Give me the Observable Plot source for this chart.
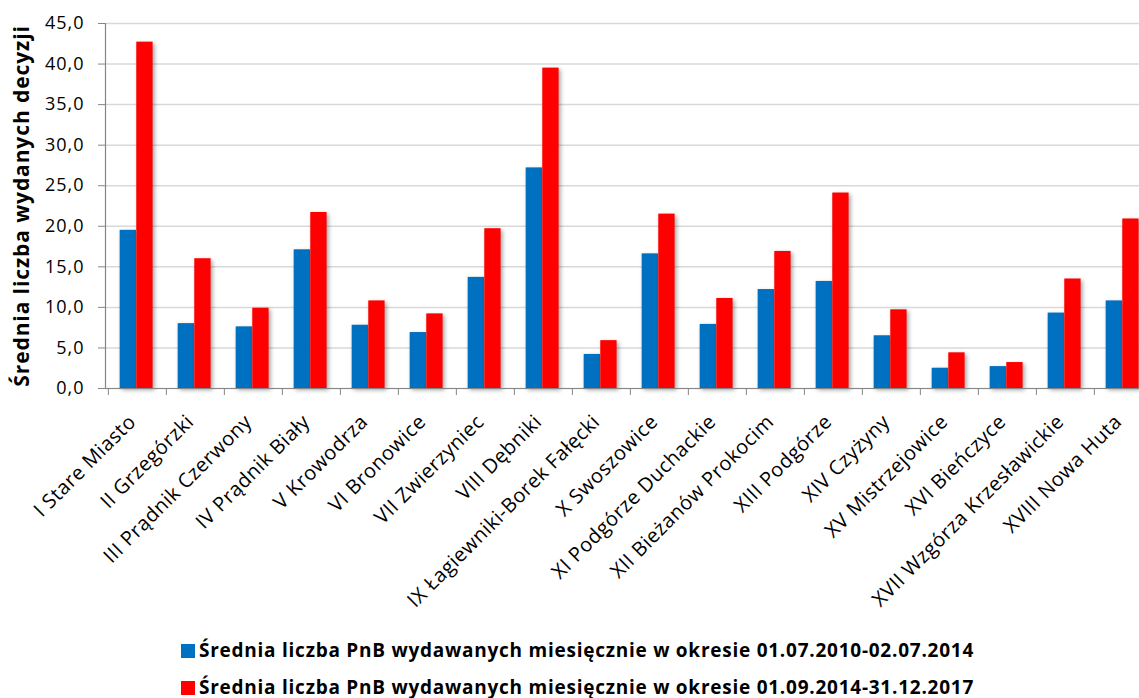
<!DOCTYPE html>
<html>
<head>
<meta charset="utf-8">
<script src="https://cdn.jsdelivr.net/npm/d3@7"></script>
<script src="https://cdn.jsdelivr.net/npm/@observablehq/plot@0.6"></script>
<style>
  html, body { margin: 0; padding: 0; background: #fff; }
  body { font-family: "Open Sans", sans-serif; color: #000; width: 1139px; height: 698px; overflow: hidden; position: relative; }
  #chart svg { display: block; }
  #chart svg g[aria-label="bar"] rect { filter: drop-shadow(2px 2px 2px rgba(0,0,0,0.35)); }
  #chart svg g[aria-label="y-axis tick label"] text { letter-spacing: 1px; }
  #chart svg g.xlabels text { letter-spacing: 0.5px; }
  #chart svg g.ytitle text { letter-spacing: 0.9px; }
  #legend { text-align: center; position: relative; }
  #legend .box { display: inline-block; text-align: left; margin-left: 16px; }
  .item { font-weight: 700; font-size: 19px; letter-spacing: 0.75px; line-height: 37px; white-space: nowrap; }
  .sw { display: inline-block; width: 14px; height: 14px; margin-right: 4px; vertical-align: -1px; }
</style>
</head>
<body>
<div id="chart"></div>
<div id="legend"><div class="box"></div></div>
<script>
const categories = [
  "I Stare Miasto", "II Grzegórzki", "III Prądnik Czerwony", "IV Prądnik Biały",
  "V Krowodrza", "VI Bronowice", "VII Zwierzyniec", "VIII Dębniki",
  "IX Łagiewniki-Borek Fałęcki", "X Swoszowice", "XI Podgórze Duchackie",
  "XII Bieżanów Prokocim", "XIII Podgórze", "XIV Czyżyny", "XV Mistrzejowice",
  "XVI Bieńczyce", "XVII Wzgórza Krzesławickie", "XVIII Nowa Huta"
];
const seriesNames = [
  "Średnia liczba PnB wydawanych miesięcznie w okresie 01.07.2010-02.07.2014",
  "Średnia liczba PnB wydawanych miesięcznie w okresie 01.09.2014-31.12.2017"
];
const seriesColors = ["#0070C0", "#FF0000"];
const values2010_2014 = [19.5, 8.0, 7.6, 17.1, 7.8, 6.9, 13.7, 27.2, 4.2, 16.6, 7.9, 12.2, 13.2, 6.5, 2.5, 2.7, 9.3, 10.8];
const values2014_2017 = [42.7, 16.0, 9.9, 21.7, 10.8, 9.2, 19.7, 39.5, 5.9, 21.5, 11.1, 16.9, 24.1, 9.7, 4.4, 3.2, 13.5, 20.9];
const yTicks = [0, 5, 10, 15, 20, 25, 30, 35, 40, 45];
const yTitle = "Średnia liczba wydanych decyzji";

const rows = categories.map((c, i) => ({district: c, a: values2010_2014[i], b: values2014_2017[i]}));

const W = 1139, H = 632, mL = 105, mT = 23, mB = H - 388;
const xRange = [mL, 1154];
const bw = (xRange[1] - xRange[0]) / categories.length;
const f0 = 0.2, fw = 0.285;

const fmt = d => d.toFixed(1).replace(".", ",");

const chart = Plot.plot({
  width: W,
  height: H,
  marginLeft: mL,
  marginRight: 0,
  marginTop: mT,
  marginBottom: mB,
  style: {fontFamily: "Open Sans, sans-serif", color: "#000", background: "transparent", overflow: "visible"},
  x: {type: "band", domain: categories, range: xRange, padding: 0},
  y: {domain: [0, 45]},
  marks: [
    Plot.gridY(yTicks, {stroke: "#d9d9d9", strokeOpacity: 1, strokeWidth: 1.5}),
    Plot.barY(rows, {x: "district", y: "a", fill: seriesColors[0],
      insetLeft: f0 * bw, insetRight: bw - (f0 + fw) * bw}),
    Plot.barY(rows, {x: "district", y: "b", fill: seriesColors[1],
      insetLeft: (f0 + fw) * bw, insetRight: bw - (f0 + 2 * fw) * bw}),
    Plot.ruleY([0], {stroke: "#868686", strokeWidth: 1.2}),
    Plot.frame({anchor: "left", stroke: "#868686", strokeWidth: 1.2}),
    Plot.axisY({ticks: yTicks, tickFormat: fmt, tickSize: 7, tickPadding: 14,
      fontSize: 18, label: null, stroke: "#868686"}),
    Plot.axisX({tickSize: 7, tickFormat: () => "", dx: -bw / 2, stroke: "#868686", label: null}),
    Plot.axisX({tickSize: 0, tickRotate: -45, tickPadding: 30, dx: -5, fontSize: 20, label: null, className: "xlabels"}),
    Plot.text([yTitle], {text: d => d, frameAnchor: "left", textAnchor: "middle", rotate: -90, dx: -83,
      fontSize: 21, fontWeight: "bold", fill: "#000", className: "ytitle"})
  ]
});
document.getElementById("chart").appendChild(chart);

const box = document.querySelector("#legend .box");
seriesNames.forEach((name, i) => {
  const item = document.createElement("div");
  item.className = "item";
  const sw = document.createElement("span");
  sw.className = "sw";
  sw.style.background = seriesColors[i];
  item.appendChild(sw);
  item.appendChild(document.createTextNode(name));
  box.appendChild(item);
});
</script>
</body>
</html>
